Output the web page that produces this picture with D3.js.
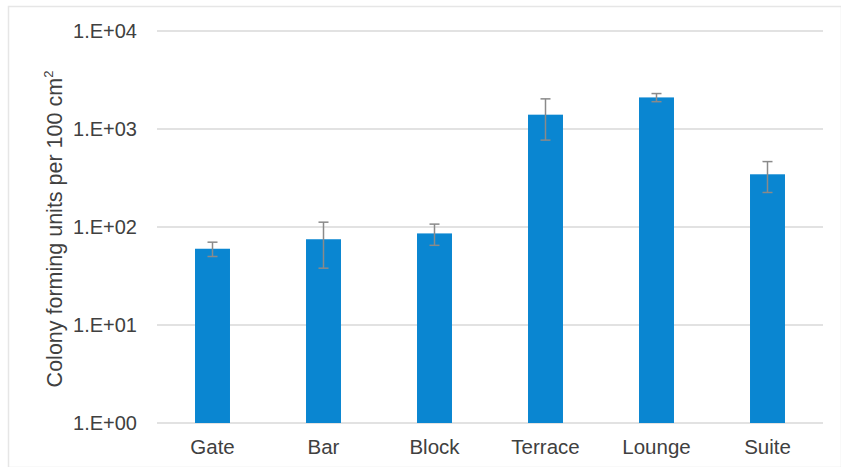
<!DOCTYPE html>
<html><head><meta charset="utf-8">
<script src="https://cdn.jsdelivr.net/npm/d3@7"></script>
<style>
html,body{margin:0;padding:0;background:#fff;}
svg text{font-family:"Liberation Sans",Arial,sans-serif;fill:#404040;}
</style></head>
<body>
<svg id="chart" width="841" height="467"></svg>
<script>
const categories = ["Gate","Bar","Block","Terrace","Lounge","Suite"];
const values = [60, 75, 86, 1400, 2100, 345];
const errors = [10, 37, 21, 630, 200, 120];
const tickValues = [1, 10, 100, 1000, 10000];
const tickLabels = ["1.E+00","1.E+01","1.E+02","1.E+03","1.E+04"];

const svg = d3.select("#chart");
const W = 841, H = 467;
const m = {left:157, right:18, top:31, bottom:44};

// outer frame
svg.append("rect").attr("x",8.5).attr("y",6.5).attr("width",W-8).attr("height",H-6)
  .attr("fill","none").attr("stroke","#e6e6e6").attr("stroke-width",1.5);

const x = d3.scaleBand().domain(categories).range([m.left, W-m.right]).paddingInner(0.685).paddingOuter(0.3425);
const y = d3.scaleLog().domain([1,10000]).range([H-m.bottom, m.top]);

// gridlines
const yAxis = d3.axisLeft(y).tickValues(tickValues).tickFormat((d,i)=>tickLabels[i]).tickSize(0).tickPadding(20);
const gy = svg.append("g").attr("transform",`translate(${m.left},0)`).call(yAxis);
gy.select(".domain").remove();
gy.selectAll("text").style("font-size","20px");
svg.append("g").selectAll("line").data(tickValues).join("line")
  .attr("x1",m.left).attr("x2",W-m.right)
  .attr("y1",d=>y(d)).attr("y2",d=>y(d))
  .attr("stroke","#d9d9d9").attr("stroke-width",1.5);

// bars
svg.append("g").selectAll("rect").data(categories).join("rect")
  .attr("x",d=>x(d)).attr("width",x.bandwidth())
  .attr("y",(d,i)=>y(values[i])).attr("height",(d,i)=>y(1)-y(values[i]))
  .attr("fill","#0a86d1");

// error bars
const eg = svg.append("g").attr("stroke","#8a8a8a").attr("stroke-width",1.5);
categories.forEach((c,i)=>{
  const cx = x(c)+x.bandwidth()/2;
  const hi = y(values[i]+errors[i]), lo = y(values[i]-errors[i]);
  eg.append("line").attr("x1",cx).attr("x2",cx).attr("y1",hi).attr("y2",lo);
  eg.append("line").attr("x1",cx-5).attr("x2",cx+5).attr("y1",hi).attr("y2",hi);
  eg.append("line").attr("x1",cx-5).attr("x2",cx+5).attr("y1",lo).attr("y2",lo);
});

// x axis labels
const xAxis = d3.axisBottom(x).tickSize(0).tickPadding(16);
const gx = svg.append("g").attr("transform",`translate(0,${H-m.bottom})`).call(xAxis);
gx.select(".domain").remove();
gx.selectAll("text").style("font-size","20.5px");

// y label
const yl = svg.append("text").attr("transform",`translate(62,229) rotate(-90)`)
  .attr("text-anchor","middle").style("font-size","21.5px");
yl.append("tspan").text("Colony forming units per 100 cm");
yl.append("tspan").text("2").attr("dy","-9").style("font-size","13px");
</script>
</body></html>
